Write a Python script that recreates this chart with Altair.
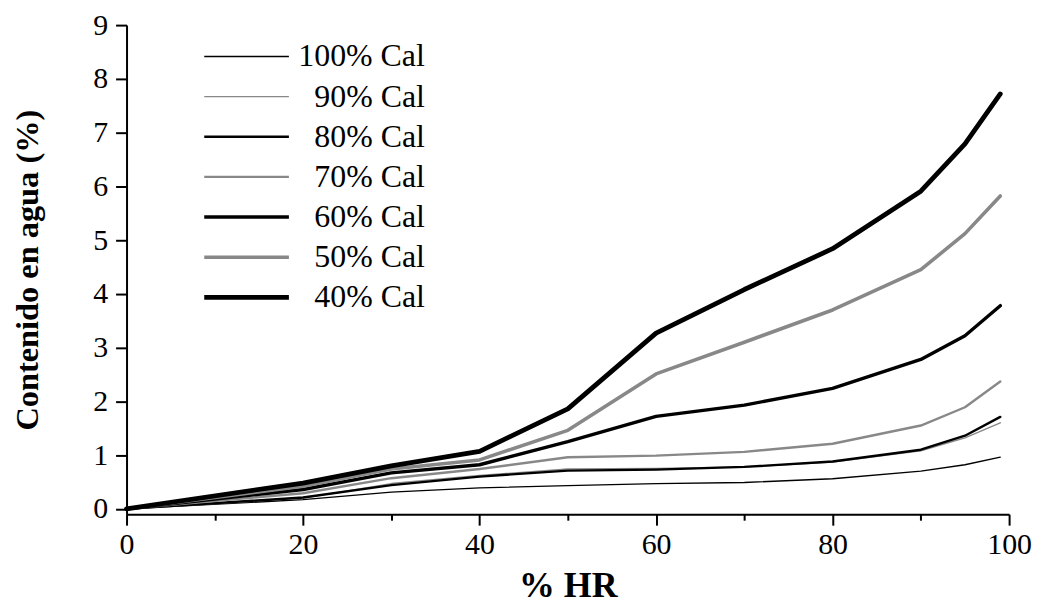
import altair as alt
import pandas as pd

# ---- data ----
hr = [0, 20, 30, 40, 50, 60, 70, 80, 90, 95, 99]
series = ["100% Cal", "90% Cal", "80% Cal", "70% Cal", "60% Cal", "50% Cal", "40% Cal"]
cal100 = [0, 0.17, 0.31, 0.39, 0.43, 0.47, 0.49, 0.56, 0.70, 0.82, 0.96]
cal90 = [0, 0.20, 0.47, 0.62, 0.74, 0.75, 0.78, 0.87, 1.08, 1.32, 1.60]
cal80 = [0, 0.21, 0.44, 0.60, 0.71, 0.73, 0.78, 0.88, 1.10, 1.36, 1.71]
cal70 = [0, 0.29, 0.57, 0.74, 0.96, 0.99, 1.06, 1.21, 1.55, 1.89, 2.37]
cal60 = [0, 0.36, 0.67, 0.82, 1.25, 1.72, 1.93, 2.24, 2.78, 3.22, 3.78]
cal50 = [0, 0.42, 0.74, 0.91, 1.46, 2.51, 3.10, 3.70, 4.45, 5.12, 5.82]
cal40 = [0, 0.48, 0.80, 1.07, 1.86, 3.27, 4.08, 4.84, 5.91, 6.79, 7.72]
colors = ["black", "#888888", "black", "#888888", "black", "#888888", "black"]
widths = [1.3, 1.4, 2.4, 2.4, 3.4, 3.6, 4.8]
x_ticks = [0, 10, 20, 30, 40, 50, 60, 70, 80, 90, 100]
y_ticks = [i / 2 for i in range(0, 19)]

values = [cal100, cal90, cal80, cal70, cal60, cal50, cal40]
rows = []
for k, (name, vals) in enumerate(zip(series, values)):
    for h, v in zip(hr, vals):
        rows.append({"serie": name, "order": k, "hr": h, "agua": v})
df = pd.DataFrame(rows)

FONT = "Liberation Serif"

legend_opts = dict(
    title=None,
    orient="none",
    legendX=78,
    legendY=15.5,
    padding=0,
    symbolType="M-10,0H10",
    symbolSize=72.25,
    symbolOffset=26.5,
    labelOffset=163,
    labelAlign="right",
    labelFont=FONT,
    labelFontSize=32,
    labelColor="black",
    rowPadding=8.3,
    labelLimit=300,
)

chart = (
    alt.Chart(df)
    .mark_line(strokeJoin="round", strokeCap="round")
    .encode(
        x=alt.X(
            "hr:Q",
            scale=alt.Scale(domain=[0, 100], nice=False),
            axis=alt.Axis(
                title="% HR",
                values=x_ticks,
                format="d",
                labelExpr="datum.value % 20 == 0 ? datum.label : ''",
                tickSize={"condition": {"test": "datum.value % 20 != 0", "value": 6}, "value": 11},
                labelFlush=False,
                labelOverlap=False,
                labelPadding=4,
                titlePadding=10,
                titleFontSize=36,
            ),
        ),
        y=alt.Y(
            "agua:Q",
            scale=alt.Scale(domain=[-0.1, 9], nice=False, zero=False),
            axis=alt.Axis(
                title="Contenido en agua (%)",
                values=y_ticks,
                format="d",
                labelExpr="datum.value % 1 == 0 ? datum.label : ''",
                tickSize={"condition": {"test": "datum.value % 1 != 0", "value": 6}, "value": 11},
                labelOverlap=False,
                labelPadding=8,
                titlePadding=48,
                titleFontSize=32.5,
            ),
        ),
        color=alt.Color(
            "serie:N",
            sort=series,
            scale=alt.Scale(type="ordinal", domain=series, range=colors),
            legend=alt.Legend(**legend_opts),
        ),
        strokeWidth=alt.StrokeWidth(
            "serie:N",
            sort=series,
            scale=alt.Scale(type="ordinal", domain=series, range=widths),
            legend=alt.Legend(**legend_opts),
        ),
        order=alt.Order("order:Q"),
    )
    .properties(
        width=886,
        height=491,
        autosize=alt.AutoSizeParams(type="none"),
        padding={"left": 119, "top": 16, "right": 26, "bottom": 96},
    )
    .configure_view(stroke=None)
    .configure_axis(
        grid=False,
        domainColor="black",
        domainWidth=2,
        tickColor="black",
        tickWidth=2,
        labelFont=FONT,
        labelFontSize=30,
        labelColor="black",
        titleFont=FONT,
        titleFontWeight="bold",
        titleColor="black",
    )
)

chart.save("out.html", embed_options={"renderer": "svg", "actions": False})
